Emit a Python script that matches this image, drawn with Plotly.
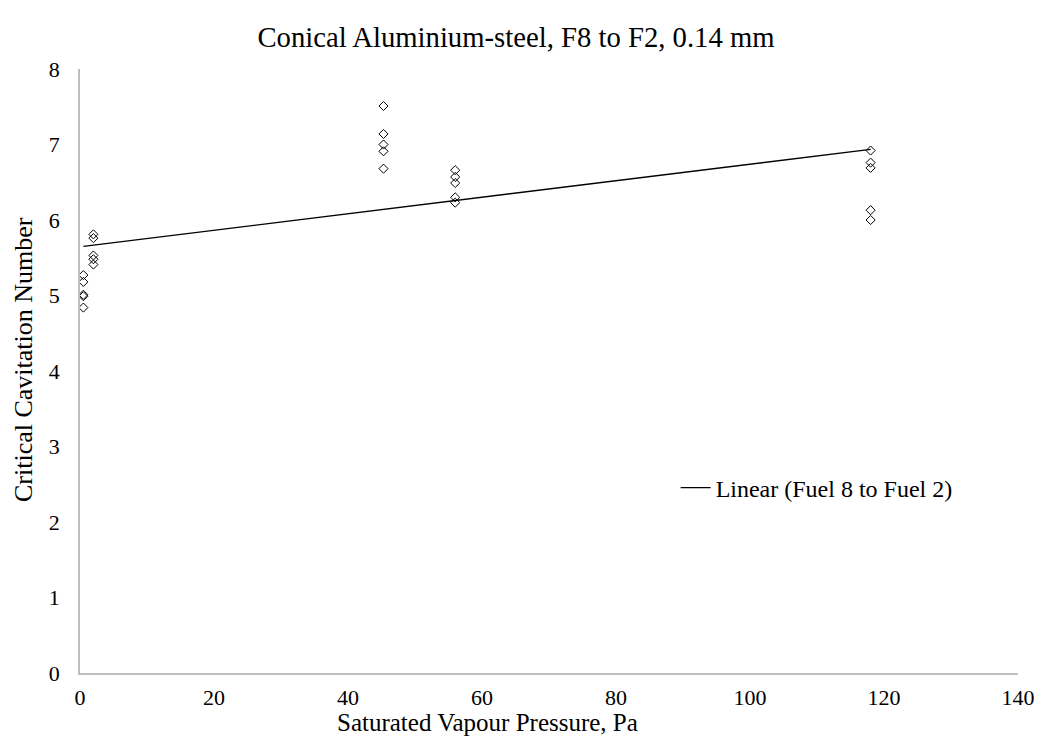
import numpy as np
import plotly.graph_objects as go

# Data
pressure = [0.5, 0.5, 0.5, 0.5, 0.5,
            2.0, 2.0, 2.0, 2.0, 2.0,
            45.3, 45.3, 45.3, 45.3, 45.3,
            56.0, 56.0, 56.0, 56.0, 56.0,
            118.0, 118.0, 118.0, 118.0, 118.0]
cav_number = [5.27, 5.18, 5.01, 4.99, 4.84,
              5.81, 5.76, 5.53, 5.48, 5.41,
              7.51, 7.14, 7.00, 6.91, 6.68,
              6.66, 6.57, 6.49, 6.30, 6.23,
              6.92, 6.76, 6.69, 6.13, 6.00]
x_ticks = [0, 20, 40, 60, 80, 100, 120, 140]
y_ticks = [0, 1, 2, 3, 4, 5, 6, 7, 8]

slope, intercept = np.polyfit(pressure, cav_number, 1)
trend_x = [min(pressure), max(pressure)]
trend_y = [slope * v + intercept for v in trend_x]

FONT = "Liberation Serif, Times New Roman, serif"
OFF = 8  # default page body margin
W, H = 1026, 735
L, R, T, B = 72, 16, 61, 70
PW, PH = W - L - R, H - T - B


def px(page_x):
    return (page_x - OFF - L) / PW


def py(page_y):
    return (H - B - (page_y - OFF)) / PH


fig = go.Figure()
fig.add_trace(go.Scatter(
    x=pressure, y=cav_number, mode="markers",
    marker=dict(symbol="diamond-open", size=7, color="black", line=dict(width=1, color="black")),
    showlegend=False, name="Fuel 8 to Fuel 2"))
fig.add_trace(go.Scatter(
    x=trend_x, y=trend_y, mode="lines",
    line=dict(color="black", width=1.3),
    name="Linear (Fuel 8 to Fuel 2)", showlegend=True))

fig.update_layout(
    width=W, height=H,
    paper_bgcolor="white", plot_bgcolor="white",
    margin=dict(l=L, r=R, t=T, b=B, autoexpand=False),
    font=dict(family=FONT, size=22, color="black"),
    title=dict(text="Conical Aluminium-steel, F8 to F2, 0.14 mm", x=(516 - OFF) / W, xanchor="center",
               y=1 - (37 - OFF) / H, yanchor="middle", font=dict(family=FONT, size=28.7, color="black")),
    legend=dict(x=0.635, y=py(488), xanchor="left", yanchor="middle", bgcolor="rgba(0,0,0,0)",
                font=dict(family=FONT, size=24, color="black")),
    xaxis=dict(range=[0, 140], tickvals=x_ticks, showgrid=False, zeroline=False,
               showline=True, linecolor="#bfbfbf", linewidth=1.5,
               ticks="outside", ticklen=4, tickcolor="rgba(0,0,0,0)",
               ticklabeloverflow="allow",
               automargin=False, tickfont=dict(family=FONT, size=22)),
    yaxis=dict(range=[0, 8], tickvals=y_ticks, showgrid=False, zeroline=False,
               showline=True, linecolor="#bfbfbf", linewidth=1.5,
               ticks="outside", ticklen=14, tickcolor="rgba(0,0,0,0)",
               automargin=False, tickfont=dict(family=FONT, size=22)),
    annotations=[
        dict(text="Saturated Vapour Pressure, Pa", xref="paper", yref="paper",
             x=px(487), y=py(722),
             xanchor="center", yanchor="middle", showarrow=False,
             font=dict(family=FONT, size=25, color="black")),
        dict(text="Critical Cavitation Number", xref="paper", yref="paper",
             x=px(23), y=py(360),
             xanchor="center", yanchor="middle", textangle=-90, showarrow=False,
             font=dict(family=FONT, size=26, color="black")),
    ],
)

fig.write_html("out.html")
